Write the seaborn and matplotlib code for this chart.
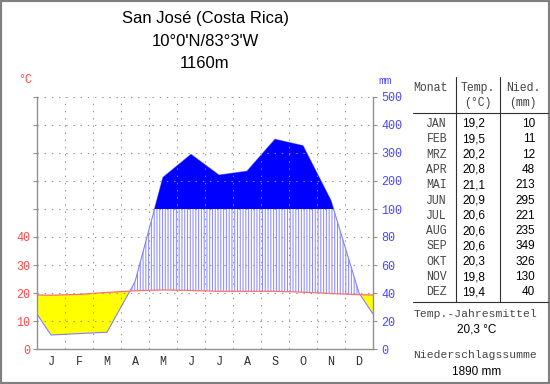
import numpy as np
import pandas as pd
import matplotlib
matplotlib.use("Agg")
import matplotlib.pyplot as plt
import seaborn as sns
from matplotlib.patches import Rectangle
from matplotlib.lines import Line2D

# ---------------- data ----------------
month_letters = ["J", "F", "M", "A", "M", "J", "J", "A", "S", "O", "N", "D"]
month_names = ["JAN", "FEB", "MRZ", "APR", "MAI", "JUN", "JUL", "AUG", "SEP", "OKT", "NOV", "DEZ"]
temperature = [19.2, 19.5, 20.2, 20.8, 21.1, 20.9, 20.6, 20.6, 20.6, 20.3, 19.8, 19.4]
precipitation = [10, 11, 12, 48, 213, 295, 221, 235, 349, 326, 130, 40]
temp_tick_values = [0, 10, 20, 30, 40]
precip_tick_values = [0, 20, 40, 60, 80, 100, 200, 300, 400, 500]
title_lines = ["San José (Costa Rica)", "10°0'N/83°3'W", "1160m"]
annual_mean_label = "20,3 °C"
annual_sum_label = "1890 mm"

# ---------------- styling ----------------
sns.set_style("white")
plt.rcParams["font.family"] = ["Liberation Mono", "DejaVu Sans"]
plt.rcParams["hatch.linewidth"] = 0.75

RED = "#ff4848"
BLUE = "#4848ff"
GRIDC = "#909090"
MONO = "Liberation Mono"
SANS = "Liberation Sans"
W, H = 550, 384


def pscale(p):
    p = np.asarray(p, dtype=float)
    return np.where(p <= 100, p / 2.0, 50 + (p - 100) / 10.0)


def fx(px):
    return px / W


def fy(py):
    return 1 - py / H


fig = plt.figure(figsize=(5.5, 3.84), dpi=100)
ax = fig.add_axes([fx(37), fy(349), 336 / W, 252 / H])

# month centres plus wrapped edges
xc = np.arange(12) + 0.5
x_ext = np.concatenate([[0], xc, [12]])
t_edge = (temperature[0] + temperature[-1]) / 2
p_edge = (pscale(precipitation[0]) + pscale(precipitation[-1])) / 2
t_ext = np.concatenate([[t_edge], temperature, [t_edge]])
p_ext = np.concatenate([[p_edge], pscale(precipitation), [p_edge]])

xf = np.linspace(0, 12, 4801)
tf = np.interp(xf, x_ext, t_ext)
pf = np.interp(xf, x_ext, p_ext)

# arid (yellow)
ax.fill_between(xf, pf, tf, where=pf <= tf, interpolate=True,
                facecolor="#ffff00", edgecolor="none", linewidth=0, zorder=1)
# humid (hatched)
ax.fill_between(xf, tf, np.minimum(pf, 50), where=pf >= tf, interpolate=True,
                facecolor="none", edgecolor="#8c8cff", hatch="||||||", linewidth=0, zorder=1)

# lines
sns.lineplot(x=x_ext, y=p_ext, ax=ax, color="#8080ff", linewidth=0.8, zorder=2)
sns.lineplot(x=x_ext, y=t_ext, ax=ax, color="#ff7070", linewidth=0.9, zorder=2)

# perhumid (solid blue)
ax.fill_between(xf, 50, pf, where=pf >= 50, interpolate=True,
                facecolor="#0000ff", edgecolor="none", linewidth=0, zorder=2.2)

ax.set_xlim(0, 12)
ax.set_ylim(0, 90)

# grid
ax.set_axisbelow(False)
for yv in range(10, 91, 10):
    ax.axhline(yv, color=GRIDC, lw=0.75, linestyle=(0, (1.3, 5.6)), zorder=3)
for xv in range(1, 12):
    ax.axvline(xv, color=GRIDC, lw=0.75, linestyle=(0, (1.3, 5.6)), zorder=3)

# spines
for s in ["left", "right", "bottom"]:
    ax.spines[s].set_color("#909090")
    ax.spines[s].set_linewidth(1.0)
ax.spines["top"].set_visible(False)

# x ticks
ax.set_xticks(np.arange(13))
ax.set_xticklabels([])
ax.set_xticks(xc, minor=True)
ax.set_xticklabels(month_letters, minor=True, fontfamily=MONO, fontsize=8.5, color="#303030")
ax.tick_params(axis="x", which="major", direction="out", length=3, width=0.8, color="#909090")
ax.tick_params(axis="x", which="minor", length=0, pad=5)

# left y ticks
ax.set_yticks(np.arange(0, 91, 10))
ax.set_yticklabels([str(v) if v in temp_tick_values else "" for v in range(0, 91, 10)],
                   fontfamily=MONO, fontsize=8.5, color=RED)
ax.tick_params(axis="y", direction="out", length=3, width=0.8, color="#909090", pad=2)

# right y axis
ax2 = ax.twinx()
ax2.set_ylim(0, 90)
ax2.set_yticks(pscale(precip_tick_values))
ax2.set_yticklabels([str(v) for v in precip_tick_values], fontfamily=MONO, fontsize=8.5, color=BLUE)
ax2.tick_params(axis="y", direction="out", length=3, width=0.8, color="#909090", pad=3)
for s in ["left", "right", "bottom", "top"]:
    ax2.spines[s].set_visible(False)
ax2.grid(False)

# unit labels
fig.text(fx(25), fy(80), "°C", color=RED, fontfamily=MONO, fontsize=8.5, ha="center", va="center")
fig.text(fx(385), fy(81), "mm", color=BLUE, fontfamily=MONO, fontsize=8, ha="center", va="center")

# title
for yy, line in zip([19, 42, 64], title_lines):
    fig.text(fx(205), fy(yy), line, fontfamily=SANS, fontsize=12, ha="center", va="center", color="#000000")

# ---------------- table ----------------
TXT = "#454545"
LINEC = "#303030"
fig.text(fx(413), fy(88), "Monat", fontfamily=MONO, fontsize=8.3, ha="left", va="center", color=TXT)
fig.text(fx(478), fy(88), "Temp.", fontfamily=MONO, fontsize=8.3, ha="center", va="center", color=TXT)
fig.text(fx(478), fy(103), "(°C)", fontfamily=MONO, fontsize=8.3, ha="center", va="center", color=TXT)
fig.text(fx(523), fy(88), "Nied.", fontfamily=MONO, fontsize=8.3, ha="center", va="center", color=TXT)
fig.text(fx(523), fy(103), "(mm)", fontfamily=MONO, fontsize=8.3, ha="center", va="center", color=TXT)

row0, dy = 124, 15.3
for i, (m, t, p) in enumerate(zip(month_names, temperature, precipitation)):
    yy = row0 + i * dy
    fig.text(fx(447), fy(yy), m, fontfamily=MONO, fontsize=8.3, ha="right", va="center", color=TXT)
    fig.text(fx(485), fy(yy), f"{t:.1f}".replace(".", ","), fontfamily=SANS, fontsize=8.5,
             ha="right", va="center", color="#000000")
    fig.text(fx(535), fy(yy), str(p), fontfamily=SANS, fontsize=8.5,
             ha="right", va="center", color="#000000")

for xline in [456, 500]:
    fig.add_artist(Line2D([fx(xline), fx(xline)], [fy(77), fy(302)], color=LINEC, lw=0.8))
for yline in [113, 302]:
    fig.add_artist(Line2D([fx(413), fx(548)], [fy(yline), fy(yline)], color=LINEC, lw=0.8))

fig.text(fx(475), fy(314), "Temp.-Jahresmittel", fontfamily=MONO, fontsize=8.2, ha="center", va="center", color=TXT)
fig.text(fx(477), fy(330), annual_mean_label, fontfamily=SANS, fontsize=8.5, ha="center", va="center", color="#000000")
fig.text(fx(475), fy(355), "Niederschlagssumme", fontfamily=MONO, fontsize=8.2, ha="center", va="center", color=TXT)
fig.text(fx(477), fy(372), annual_sum_label, fontfamily=SANS, fontsize=8.5, ha="center", va="center", color="#000000")

# outer border
fig.add_artist(Rectangle((0, 0), 1, 1, transform=fig.transFigure, fill=False,
                         edgecolor="#808080", linewidth=3))

fig.savefig("out.png", dpi=100)
